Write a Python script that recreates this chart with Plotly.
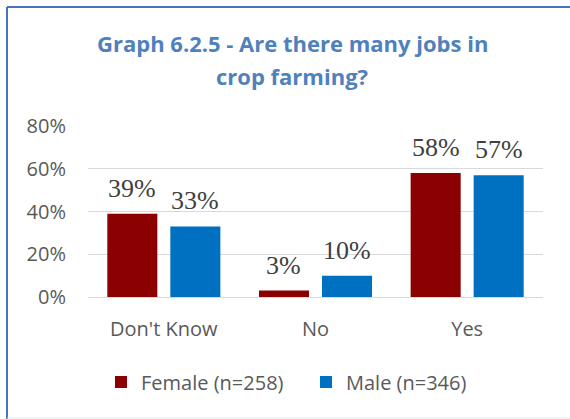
import plotly.graph_objects as go

categories = ["Don't Know", "No", "Yes"]
female_values = [0.39, 0.03, 0.58]
male_values = [0.33, 0.10, 0.57]
female_name = "Female (n=258)"
male_name = "Male (n=346)"
title_lines = ["Graph 6.2.5 - Are there many jobs in", "crop farming?"]
y_ticks = [0, 0.2, 0.4, 0.6, 0.8]
y_tick_labels = ["0%", "20%", "40%", "60%", "80%"]

W, H = 570, 419
ML, MR, MT, MB = 88, 27, 126, 122
PW, PH = W - ML - MR, H - MT - MB
BARGAP, BARGROUPGAP = 0.169, 0.206
SLOT = PW / len(categories) * (1 - BARGAP) / 2  # px width of one trace slot

def px_x(x):
    return (x - ML) / PW

def px_y(y):
    return (H - MB - y) / PH

label_font = dict(family="Liberation Serif", size=26, color="#404040")
text_font = dict(family="Open Sans", size=20, color="#595959")
title_font = dict(family="Open Sans", size=22, color="#4F81BD", weight="bold")

fig = go.Figure()
fig.add_trace(go.Bar(
    x=categories, y=female_values, name=female_name,
    marker=dict(color="#8B0000", line=dict(width=0)),
))
fig.add_trace(go.Bar(
    x=categories, y=male_values, name=male_name,
    marker=dict(color="#0070C0", line=dict(width=0)),
))

annotations = []
for values, side in ((female_values, -1), (male_values, 1)):
    for cat, v in zip(categories, values):
        annotations.append(dict(
            x=cat, y=v, xref="x", yref="y", text=f"{v*100:.0f}%",
            showarrow=False, xanchor="center", yanchor="bottom",
            xshift=side * SLOT / 2, yshift=9, font=label_font,
        ))

annotations += [
    dict(text=title_lines[0], xref="paper", yref="paper", x=px_x(292), y=px_y(43),
         xanchor="center", yanchor="middle", showarrow=False, font=title_font),
    dict(text=title_lines[1], xref="paper", yref="paper", x=px_x(292), y=px_y(76),
         xanchor="center", yanchor="middle", showarrow=False, font=title_font),
]

border = "#4472C4"
shapes = [
    dict(type="line", xref="paper", yref="paper", x0=px_x(7), x1=px_x(W + 5),
         y0=px_y(7), y1=px_y(7), line=dict(color=border, width=2)),
    dict(type="line", xref="paper", yref="paper", x0=px_x(7), x1=px_x(7),
         y0=px_y(7), y1=px_y(H + 5), line=dict(color=border, width=2)),
    dict(type="line", xref="paper", yref="paper", x0=px_x(7), x1=px_x(W + 5),
         y0=px_y(418), y1=px_y(418), line=dict(color="#E4E4F4", width=1)),
]

fig.update_layout(
    width=W, height=H,
    margin=dict(l=ML, r=MR, t=MT, b=MB, pad=0, autoexpand=False),
    paper_bgcolor="white", plot_bgcolor="white",
    barmode="group", bargap=BARGAP, bargroupgap=BARGROUPGAP,
    font=text_font,
    showlegend=True,
    legend=dict(orientation="h", xref="paper", yref="paper",
                x=px_x(306), xanchor="center", y=px_y(382), yanchor="middle",
                font=text_font, traceorder="normal", entrywidth=160),
    shapes=shapes,
    annotations=annotations,
    yaxis=dict(range=[0, 0.8], tickvals=y_ticks, ticktext=y_tick_labels,
               showgrid=True, gridcolor="#D9D9D9", gridwidth=1,
               zeroline=False, showline=False, ticks="",
               ticklabelstandoff=21, fixedrange=True),
    xaxis=dict(showline=True, linecolor="#D9D9D9", linewidth=1, ticks="",
               ticklabelstandoff=14, fixedrange=True),
)

fig.write_html("out.html", config={"displayModeBar": False},
               post_script="document.body.style.margin='0';document.body.style.overflow='hidden';")
